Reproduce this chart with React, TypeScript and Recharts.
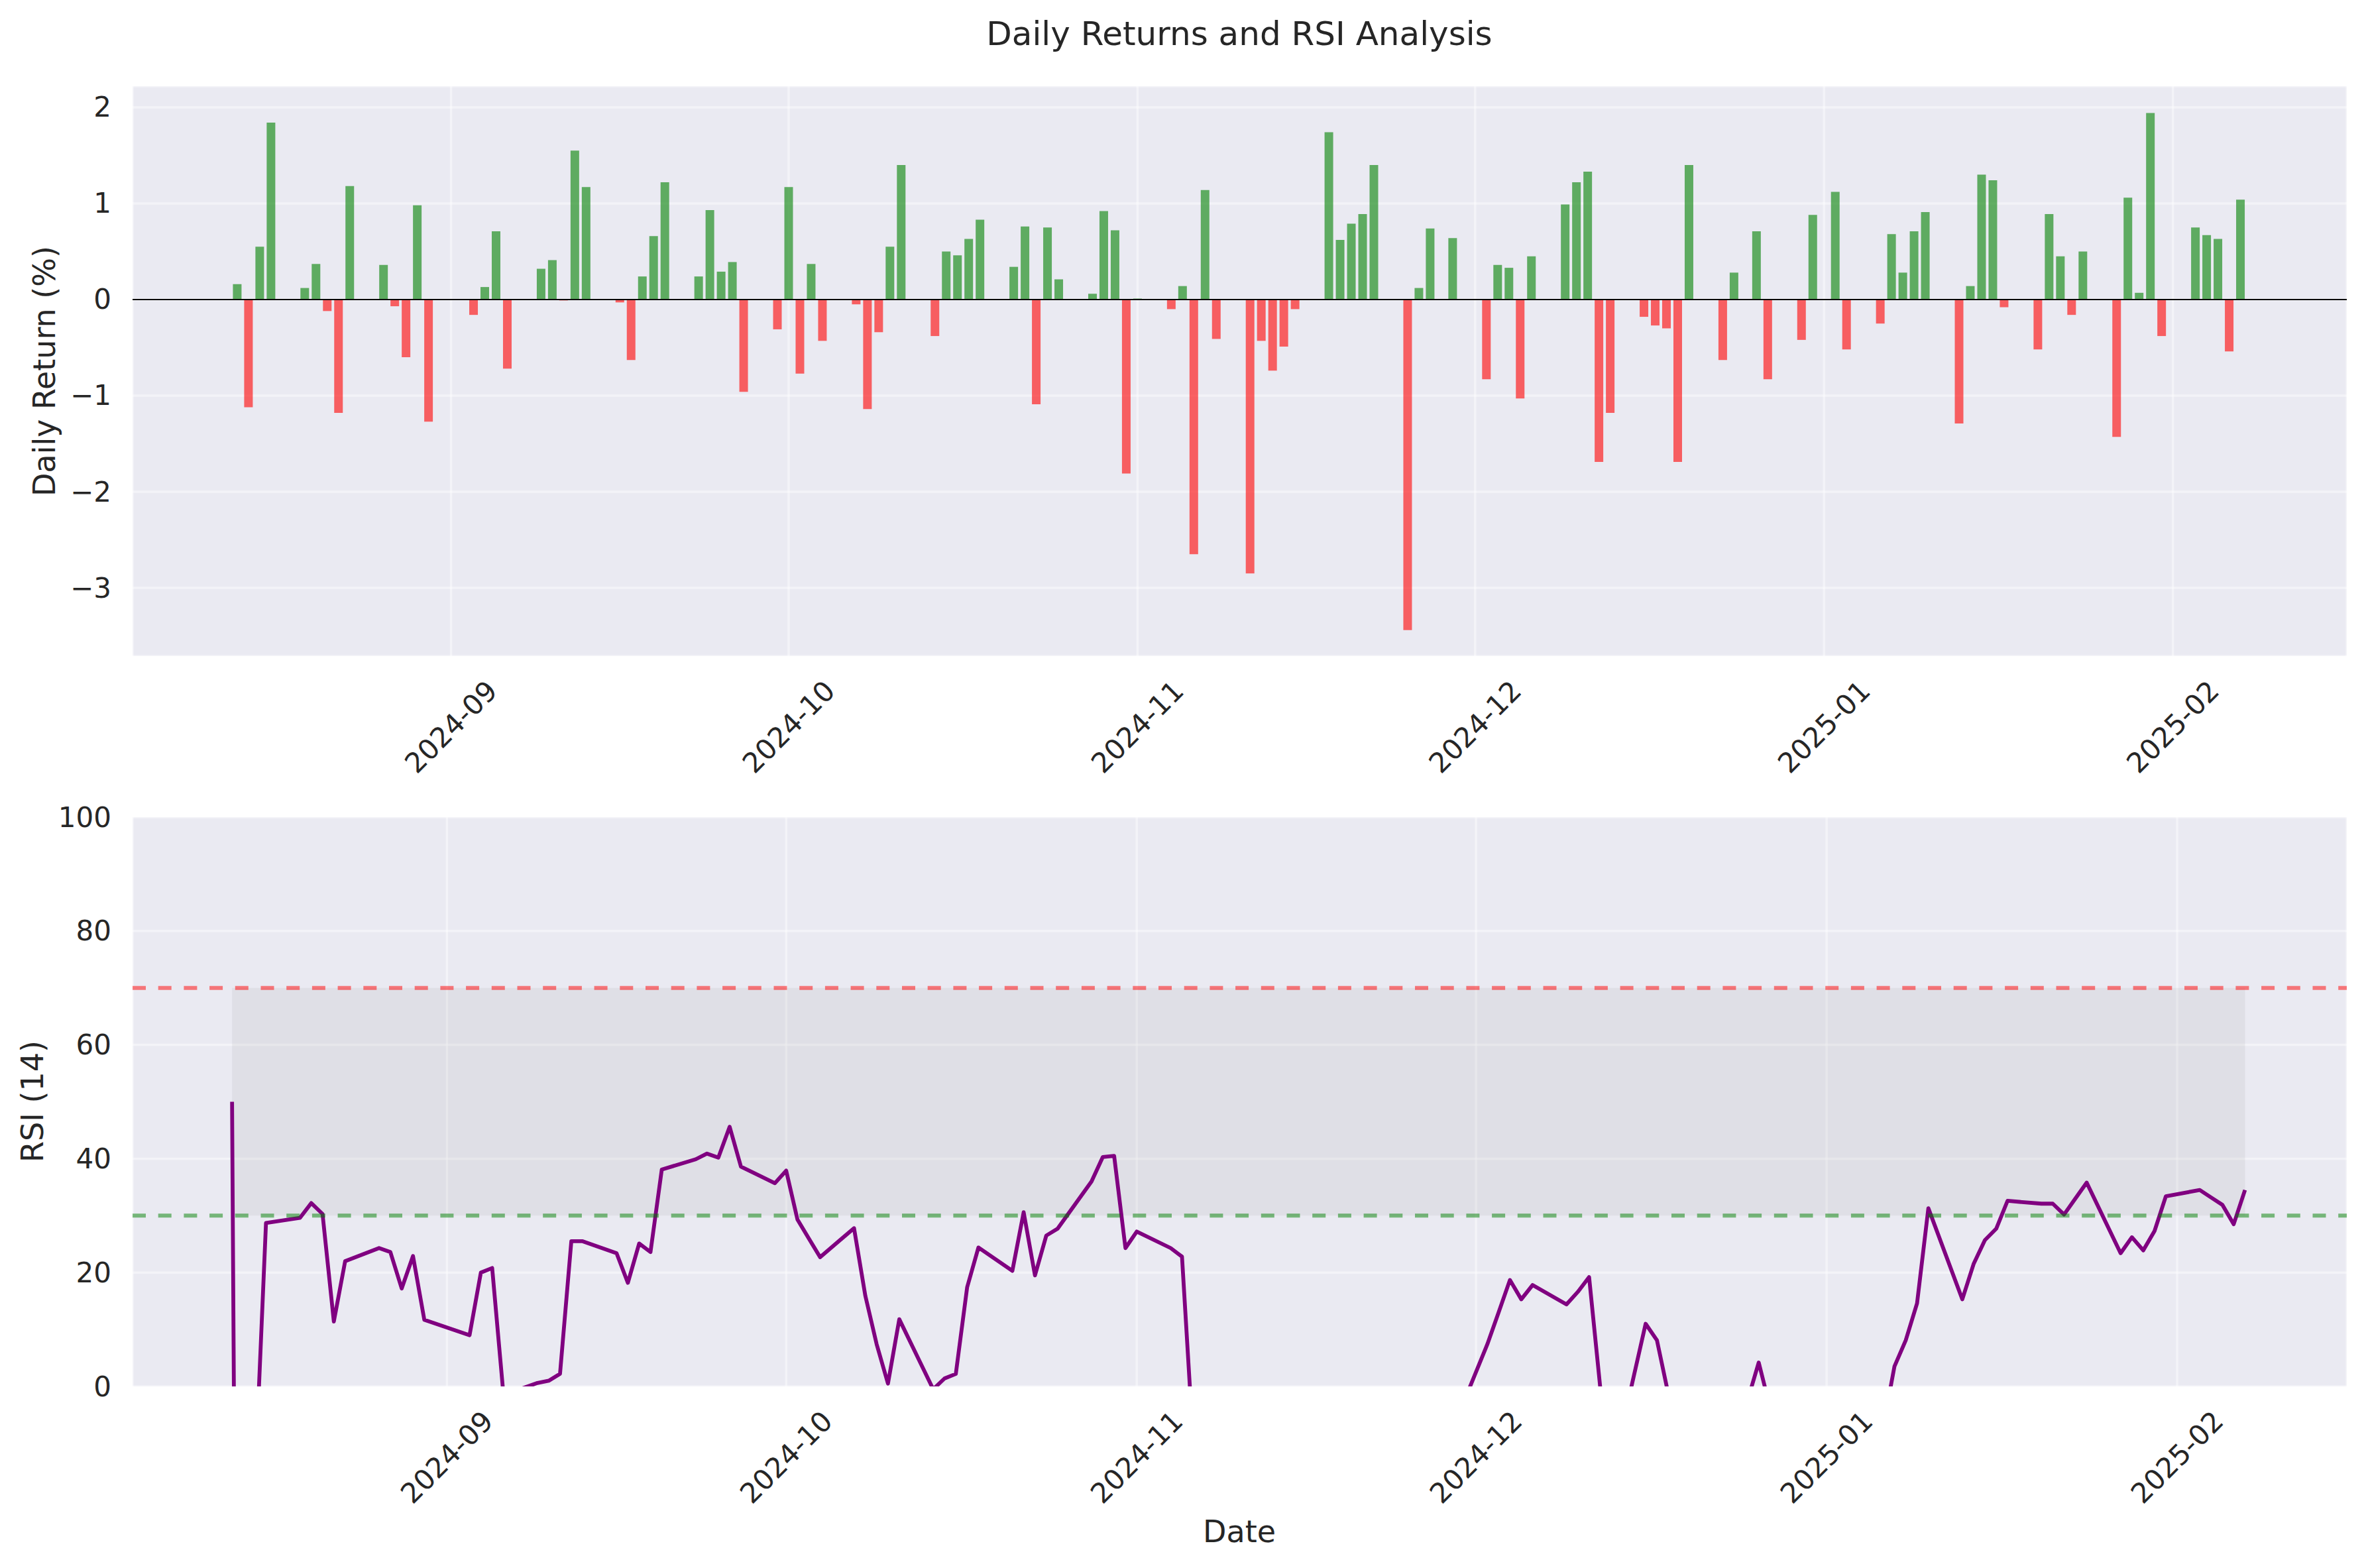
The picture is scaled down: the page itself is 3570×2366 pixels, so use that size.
import React from "react";
import {
  ComposedChart,
  Bar,
  Cell,
  Line,
  XAxis,
  YAxis,
  CartesianGrid,
  ReferenceLine,
  ReferenceArea,
} from "recharts";

// Trading days shown on both panels
const tradingDates = [
  // Aug 2024
  "2024-08-13", "2024-08-14", "2024-08-15", "2024-08-16", "2024-08-19", "2024-08-20", "2024-08-21",
  "2024-08-22", "2024-08-23", "2024-08-26", "2024-08-27", "2024-08-28", "2024-08-29", "2024-08-30",
  // Sep 2024
  "2024-09-03", "2024-09-04", "2024-09-05", "2024-09-06", "2024-09-09", "2024-09-10", "2024-09-11",
  "2024-09-12", "2024-09-13", "2024-09-16", "2024-09-17", "2024-09-18", "2024-09-19", "2024-09-20",
  "2024-09-23", "2024-09-24", "2024-09-25", "2024-09-26", "2024-09-27", "2024-09-30",
  // Oct 2024
  "2024-10-01", "2024-10-02", "2024-10-03", "2024-10-04", "2024-10-07", "2024-10-08", "2024-10-09",
  "2024-10-10", "2024-10-11", "2024-10-14", "2024-10-15", "2024-10-16", "2024-10-17", "2024-10-18",
  "2024-10-21", "2024-10-22", "2024-10-23", "2024-10-24", "2024-10-25", "2024-10-28", "2024-10-29",
  "2024-10-30", "2024-10-31",
  // Nov 2024
  "2024-11-01", "2024-11-04", "2024-11-05", "2024-11-06", "2024-11-07", "2024-11-08", "2024-11-11",
  "2024-11-12", "2024-11-13", "2024-11-14", "2024-11-15", "2024-11-18", "2024-11-19", "2024-11-20",
  "2024-11-21", "2024-11-22", "2024-11-25", "2024-11-26", "2024-11-27", "2024-11-29",
  // Dec 2024
  "2024-12-02", "2024-12-03", "2024-12-04", "2024-12-05", "2024-12-06", "2024-12-09", "2024-12-10",
  "2024-12-11", "2024-12-12", "2024-12-13", "2024-12-16", "2024-12-17", "2024-12-18", "2024-12-19",
  "2024-12-20", "2024-12-23", "2024-12-24", "2024-12-26", "2024-12-27", "2024-12-30", "2024-12-31",
  // Jan 2025
  "2025-01-02", "2025-01-03", "2025-01-06", "2025-01-07", "2025-01-08", "2025-01-09", "2025-01-10",
  "2025-01-13", "2025-01-14", "2025-01-15", "2025-01-16", "2025-01-17", "2025-01-20", "2025-01-21",
  "2025-01-22", "2025-01-23", "2025-01-24", "2025-01-27", "2025-01-28", "2025-01-29", "2025-01-30",
  "2025-01-31",
  // Feb 2025
  "2025-02-03", "2025-02-04", "2025-02-05", "2025-02-06", "2025-02-07",
];

// Daily return in %
const dailyReturns = [
  0.16, -1.12, 0.55, 1.84, 0.12, 0.37, -0.12, -1.18, 1.18, 0.36, -0.07, -0.6, 0.98, -1.27,
  -0.16, 0.13, 0.71, -0.72, 0.32, 0.41, -0.01, 1.55, 1.17, -0.03, -0.63, 0.24, 0.66, 1.22,
  0.24, 0.93, 0.29, 0.39, -0.96, -0.31,
  1.17, -0.77, 0.37, -0.43, -0.05, -1.14, -0.34, 0.55, 1.4, -0.38, 0.5, 0.46, 0.63, 0.83,
  0.34, 0.76, -1.09, 0.75, 0.21, 0.06, 0.92, 0.72, -1.81,
  0.01, -0.1, 0.14, -2.65, 1.14, -0.41, -2.85, -0.43, -0.74, -0.49, -0.1, 1.74, 0.62, 0.79,
  0.89, 1.4, -3.44, 0.12, 0.74, 0.64,
  -0.83, 0.36, 0.33, -1.03, 0.45, 0.99, 1.22, 1.33, -1.69, -1.18, -0.18, -0.27, -0.3, -1.69,
  1.4, -0.63, 0.28, 0.71, -0.83, -0.42, 0.88,
  1.12, -0.52, -0.25, 0.68, 0.28, 0.71, 0.91, -1.29, 0.14, 1.3, 1.24, -0.08, -0.52, 0.89,
  0.45, -0.16, 0.5, -1.43, 1.06, 0.07, 1.94, -0.38,
  0.75, 0.67, 0.63, -0.54, 1.04,
];

// RSI(14); values below 0 run off the bottom of the panel
const rsiValues = [
  50, -264, -17.6, 28.7, 29.6, 32.2, 30.3, 11.4, 22, 24.3, 23.6, 17.2, 22.9, 11.7,
  9, 20, 20.8, -1.5, 0.6, 1, 2.2, 25.5, 25.5, 23.4, 18.2, 25.1, 23.6, 38.1,
  39.9, 40.9, 40.2, 45.6, 38.6, 35.7,
  37.9, 29.3, 26, 22.7, 27.8, 15.9, 7.4, 0.5, 11.8, -0.5, 1.4, 2.2, 17.4, 24.4,
  20.3, 30.6, 19.5, 26.5, 27.7, 36, 40.3, 40.5, 24.3,
  27.2, 24.3, 22.8, -10, -12, -20, -35, -30, -38, -42, -40, -25, -22, -18,
  -15, -9, -30, -25, -15, -7.2,
  7.4, 13, 18.7, 15.3, 17.8, 14.4, 16.6, 19.2, -0.5, -15.3, 11, 8.1, -1.3, -14,
  -6, -12, -9.3, 4.2, -3.7, -10, -6,
  -4, -9, -7.2, 3.5, 8.1, 14.6, 31.3, 15.3, 21.5, 25.7, 27.7, 32.6, 32.1, 32.1,
  30.2, 33, 35.8, 23.4, 26.2, 23.9, 27.3, 33.4,
  34.5, 33.2, 31.9, 28.5, 34.5,
];

const monthLabels = ["2024-09", "2024-10", "2024-11", "2024-12", "2025-01", "2025-02"];
const returnTicks = [-3, -2, -1, 0, 1, 2];
const rsiTicks = [0, 20, 40, 60, 80, 100];

const FONT = "DejaVu Sans, Arial, sans-serif";
const TEXT = "#262626";
const BG = "#EAEAF2";
const DAY = 86400000;

const data = tradingDates.map((d, i) => ({
  t: Date.parse(d),
  ret: dailyReturns[i],
  rsi: rsiValues[i],
}));

const firstTs = data[0].t;
const lastTs = data[data.length - 1].t;
const monthTicks = monthLabels.map((m) => Date.parse(m + "-01"));

const retDomain = [firstTs - 9.3 * DAY, firstTs + 187.45 * DAY];
const rsiDomain = [firstTs - 8.8 * DAY, firstTs + 187.0 * DAY];

const fmtNum = (v: number) => String(v).replace("-", "\u2212");

const makeDateTick = (plotBottom: number) => (props: any) => {
  const { x, payload } = props;
  const cy = plotBottom + 107;
  const label = new Date(payload.value).toISOString().slice(0, 7);
  return (
    <text
      x={x}
      y={cy}
      transform={`rotate(-45 ${x} ${cy})`}
      textAnchor="middle"
      dominantBaseline="central"
      fontFamily={FONT}
      fontSize={42}
      fill={TEXT}
    >
      {label}
    </text>
  );
};

const valueTick = (props: any) => (
  <text
    x={168}
    y={props.y}
    textAnchor="end"
    dominantBaseline="central"
    fontFamily={FONT}
    fontSize={42}
    fill={TEXT}
  >
    {fmtNum(props.payload.value)}
  </text>
);

export default function App() {
  return (
    <div
      style={{
        position: "absolute",
        left: 0,
        top: 0,
        width: 3570,
        height: 2366,
        background: "#ffffff",
        overflow: "hidden",
      }}
    >
      <div style={{ position: "absolute", left: 0, top: 0 }}>
        <ComposedChart
          width={3570}
          height={1200}
          data={data}
          margin={{ top: 130, right: 29, bottom: 10, left: 0 }}
        >
          <CartesianGrid
            fill={BG}
            stroke="#ffffff"
            strokeOpacity={0.45}
            strokeWidth={3.5}
          />
          <XAxis
            type="number"
            dataKey="t"
            domain={retDomain}
            ticks={monthTicks}
            interval={0}
            allowDataOverflow
            axisLine={false}
            tickLine={false}
            height={200}
            tick={makeDateTick(990)}
          />
          <YAxis
            type="number"
            domain={[-3.71, 2.22]}
            ticks={returnTicks}
            interval={0}
            allowDataOverflow
            axisLine={false}
            tickLine={false}
            width={200}
            tick={valueTick}
          />
          <Bar dataKey="ret" barSize={13} isAnimationActive={false}>
            {data.map((row, i) => (
              <Cell
                key={`r-${i}`}
                fill={row.ret >= 0 ? "#008000" : "#ff0000"}
                fillOpacity={0.6}
              />
            ))}
          </Bar>
          <ReferenceLine y={0} stroke="#000000" strokeWidth={2} />
        </ComposedChart>
      </div>

      <div style={{ position: "absolute", left: 0, top: 1200 }}>
        <ComposedChart
          width={3570}
          height={1166}
          data={data}
          margin={{ top: 33, right: 29, bottom: 34, left: 0 }}
        >
          <CartesianGrid
            fill={BG}
            stroke="#ffffff"
            strokeOpacity={0.45}
            strokeWidth={3.5}
          />
          <XAxis
            type="number"
            dataKey="t"
            domain={rsiDomain}
            ticks={monthTicks}
            interval={0}
            allowDataOverflow
            axisLine={false}
            tickLine={false}
            height={240}
            tick={makeDateTick(892)}
          />
          <YAxis
            type="number"
            domain={[0, 100]}
            ticks={rsiTicks}
            interval={0}
            allowDataOverflow
            axisLine={false}
            tickLine={false}
            width={200}
            tick={valueTick}
          />
          <ReferenceArea
            x1={firstTs}
            x2={lastTs}
            y1={30}
            y2={70}
            fill="#808080"
            fillOpacity={0.1}
            stroke="none"
          />
          <Line
            type="linear"
            dataKey="rsi"
            stroke="#800080"
            strokeWidth={5.8}
            strokeLinejoin="round"
            dot={false}
            activeDot={false}
            isAnimationActive={false}
          />
          <ReferenceLine
            y={70}
            stroke="#ff0000"
            strokeOpacity={0.5}
            strokeWidth={6}
            strokeDasharray="20 18.7"
          />
          <ReferenceLine
            y={30}
            stroke="#008000"
            strokeOpacity={0.5}
            strokeWidth={6}
            strokeDasharray="20 18.7"
          />
        </ComposedChart>
      </div>

      <svg
        width={3570}
        height={2366}
        style={{ position: "absolute", left: 0, top: 0, pointerEvents: "none" }}
      >
        <text x={1870} y={68} textAnchor="middle" fontFamily={FONT} fontSize={50} fill={TEXT}>
          Daily Returns and RSI Analysis
        </text>
        <text
          x={83}
          y={560}
          transform="rotate(-90 83 560)"
          textAnchor="middle"
          fontFamily={FONT}
          fontSize={46}
          fill={TEXT}
        >
          Daily Return (%)
        </text>
        <text
          x={65}
          y={1662}
          transform="rotate(-90 65 1662)"
          textAnchor="middle"
          fontFamily={FONT}
          fontSize={46}
          fill={TEXT}
        >
          RSI (14)
        </text>
        <text x={1870} y={2327} textAnchor="middle" fontFamily={FONT} fontSize={46} fill={TEXT}>
          Date
        </text>
      </svg>
    </div>
  );
}
